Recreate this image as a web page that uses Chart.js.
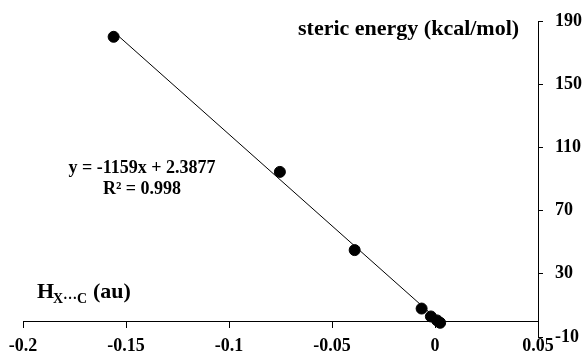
<!DOCTYPE html>
<html>
<head>
<meta charset="utf-8">
<script src="https://cdn.jsdelivr.net/npm/chart.js@4.4.1/dist/chart.umd.min.js"></script>
<style>
  html, body { margin: 0; padding: 0; background: #fff; }
  #wrap { width: 585px; height: 354px; }
</style>
</head>
<body>
<div id="wrap"><canvas id="chart"></canvas></div>
<script>
// data
const xValues = [-0.156, -0.0753, -0.039, -0.0065, -0.002, 0.001, 0.0025];
const yValues = [180, 94.5, 45, 8, 3, 0.5, -1];
const trendX = [-0.156, 0.0025];
const trendY = [183.2, -0.5];
const xTicks = [-0.2, -0.15, -0.1, -0.05, 0, 0.05];
const yTicks = [-10, 30, 70, 110, 150, 190];
const yTitle = "steric energy (kcal/mol)";
const equation = "y = -1159x + 2.3877";
const rSquared = "R\u00B2 = 0.998";

const serif = "'Liberation Serif', 'Times New Roman', serif";

const points = xValues.map((x, i) => ({ x: x, y: yValues[i] }));
const trend = trendX.map((x, i) => ({ x: x, y: trendY[i] }));

// texts written on the plot
const textPlugin = {
  id: 'texts',
  afterDraw(chart) {
    const ctx = chart.ctx;
    ctx.save();
    ctx.fillStyle = '#000';
    ctx.textBaseline = 'alphabetic';

    ctx.font = 'bold 22px ' + serif;
    ctx.textAlign = 'left';
    ctx.fillText(yTitle, 298, 35);

    ctx.font = 'bold 18px ' + serif;
    ctx.textAlign = 'center';
    ctx.fillText(equation, 142, 173);
    ctx.fillText(rSquared, 142, 194);

    // x axis title: H with subscript X···C
    ctx.textAlign = 'left';
    ctx.font = 'bold 22px ' + serif;
    ctx.fillText('H', 37, 298);
    ctx.font = 'bold 14px ' + serif;
    ctx.fillText('X\u00B7\u00B7\u00B7C', 53, 303);
    ctx.font = 'bold 22px ' + serif;
    ctx.fillText('(au)', 93, 298);
    ctx.restore();
  }
};

new Chart(document.getElementById('chart'), {
  type: 'scatter',
  data: {
    datasets: [
      {
        data: trend,
        showLine: true,
        borderColor: '#000',
        borderWidth: 1,
        pointRadius: 0,
        order: 2
      },
      {
        data: points,
        backgroundColor: '#000',
        borderColor: '#000',
        borderWidth: 1,
        pointRadius: 5.5,
        order: 1
      }
    ]
  },
  options: {
    responsive: true,
    maintainAspectRatio: false,
    animation: false,
    layout: { padding: { left: 23, right: 0, top: 21, bottom: 17 } },
    plugins: { legend: { display: false }, tooltip: { enabled: false } },
    scales: {
      x: {
        type: 'linear',
        min: -0.2,
        max: 0.05,
        position: { y: 0 },
        afterFit: s => { s.height = 0; },
        afterBuildTicks: s => { s.ticks = xTicks.map(v => ({ value: v })); },
        grid: { drawOnChartArea: false, drawTicks: true, tickLength: 6, color: '#000' },
        border: { display: true, color: '#000', width: 1 },
        ticks: {
          color: '#000',
          padding: 8,
          maxRotation: 0,
          font: { family: serif, size: 18, weight: 'bold' },
          callback: v => String(v)
        }
      },
      y: {
        type: 'linear',
        min: -10,
        max: 190,
        position: 'right',
        afterFit: s => { s.width = 47; s.paddingTop = 0; s.paddingBottom = 0; },
        afterBuildTicks: s => { s.ticks = yTicks.map(v => ({ value: v })); },
        grid: { drawOnChartArea: false, drawTicks: true, tickLength: 5, color: '#000' },
        border: { display: true, color: '#000', width: 1 },
        ticks: {
          color: '#000',
          padding: 12,
          font: { family: serif, size: 18, weight: 'bold' },
          callback: v => String(v)
        }
      }
    }
  },
  plugins: [textPlugin]
});
</script>
</body>
</html>
